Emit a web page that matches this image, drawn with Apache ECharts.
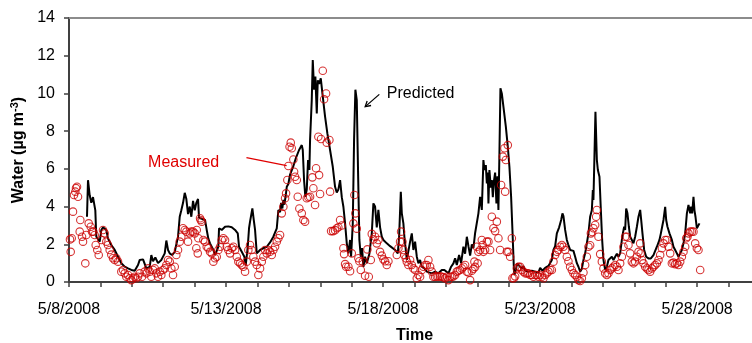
<!DOCTYPE html>
<html><head><meta charset="utf-8">
<script src="https://cdn.jsdelivr.net/npm/echarts@6/dist/echarts.min.js"></script>
<style>html,body{margin:0;padding:0;background:#fff;width:752px;height:343px;overflow:hidden}#c{width:752px;height:343px;overflow:hidden}</style>
</head><body><div id="c"></div>
<script>
// Time in days since 5/8/2008 00:00
const predDay = [0.573,0.605,0.659,0.710,0.764,0.796,0.838,0.869,0.924,0.978,1.029,1.083,1.188,1.242,1.296,1.347,1.455,1.561,1.666,1.774,1.879,1.984,2.092,2.197,2.252,2.357,2.462,2.570,2.621,2.675,2.748,2.834,2.939,3.048,3.099,3.153,3.207,3.280,3.366,3.471,3.525,3.576,3.631,3.685,3.736,3.790,3.844,3.895,3.949,4.003,4.054,4.108,4.140,4.172,4.331,4.385,4.436,4.490,4.596,4.650,4.682,4.755,4.777,4.863,4.968,5.073,5.182,5.287,5.373,5.414,5.500,5.583,5.627,5.691,5.732,5.764,5.838,5.882,5.924,5.978,6.083,6.188,6.296,6.401,6.506,6.561,6.615,6.666,6.720,6.752,6.793,6.825,6.857,6.901,6.933,6.984,7.038,7.134,7.229,7.325,7.411,7.443,7.484,7.525,7.570,7.611,7.653,7.675,7.729,7.761,7.803,7.844,7.889,7.920,7.962,8.016,8.080,8.153,8.226,8.312,8.398,8.471,8.525,8.576,8.631,8.685,8.736,8.790,8.844,8.895,8.949,8.981,9.035,9.076,9.118,9.162,9.204,9.245,9.290,9.331,9.373,9.427,9.481,9.564,9.640,9.691,9.745,9.799,9.850,9.904,9.959,10.010,10.118,10.223,10.277,10.382,10.468,10.510,10.564,10.596,10.646,10.678,10.723,10.755,10.806,10.860,10.914,10.965,11.019,11.073,11.124,11.178,11.232,11.315,11.392,11.443,11.551,11.656,11.761,11.869,11.952,11.997,12.080,12.166,12.239,12.293,12.347,12.420,12.484,12.557,12.611,12.666,12.717,12.771,12.825,12.876,12.930,12.984,13.035,13.089,13.143,13.194,13.226,13.271,13.303,13.334,13.354,13.385,13.430,13.462,13.494,13.525,13.567,13.608,13.640,13.672,13.704,13.736,13.780,13.831,13.908,13.971,14.022,14.076,14.118,14.162,14.181,14.226,14.268,14.315,14.363,14.417,14.468,14.522,14.576,14.627,14.736,14.841,14.946,15.000,15.073,15.159,15.264,15.318,15.373,15.424,15.478,15.532,15.605,15.669,15.710,15.742,15.796,15.850,15.892,15.955,16.010,16.061,16.115,16.169,16.220,16.274,16.328,16.379,16.433,16.487,16.538,16.592,16.646,16.678,16.697,16.729,16.761,16.806,16.838,16.889,16.933,16.975,17.016,17.070,17.124,17.175,17.229,17.283,17.334,17.389,17.443,17.494,17.548,17.602,17.634,17.675,17.707,17.739,17.780,17.825,17.866,17.920,17.971,18.025,18.080,18.131,18.185,18.217,18.258,18.312,18.376,18.449,18.525,18.608,18.717,18.799,18.844,18.885,18.927,18.981,19.013,19.054,19.118,19.194,19.245,19.299,19.354,19.405,19.459,19.513,19.564,19.618,19.672,19.723,19.777,19.809,19.841,19.882,19.914,19.946,19.990,20.032,20.073];
const predVal = [3.46,5.4,4.6,4.2,4.5,4.2,3.8,2.4,2.5,2.14,2.76,2.9,2.76,2.3,2.14,1.96,1.7,1.34,0.99,0.81,0.72,0.64,0.6,0.9,1.17,1.2,0.72,0.8,1.43,1.1,1.3,1.0,1.17,1.52,2.2,1.7,1.52,1.43,1.6,2.4,3.46,3.8,4.2,4.73,4.4,3.6,4.0,3.46,4.3,3.8,4.2,4.4,3.4,3.3,3.29,2.76,2.3,2.05,1.7,1.43,1.5,1.87,2.85,2.76,2.93,2.95,2.9,2.76,2.58,1.87,1.6,1.34,0.9,1.87,2.85,3.2,3.9,3.3,2.76,1.52,1.7,1.79,1.87,2.1,2.4,2.5,2.85,3.82,3.7,4.2,3.9,4.35,4.1,4.6,5.05,5.2,5.7,6.1,6.6,7.0,7.26,7.0,5.4,4.52,4.9,6.47,5.94,7.53,9.65,11.77,10.2,10.9,8.94,10.7,10.5,10.8,9.83,8.77,7.88,7.0,6.11,5.05,4.75,4.9,5.4,4.5,3.99,3.11,2.05,1.52,2.23,1.34,3.11,7.53,10.2,9.65,5.76,2.23,1.34,1.8,0.81,1.34,1.0,1.5,2.58,4.17,4.0,2.9,3.82,2.9,2.4,2.23,2.05,1.9,1.87,1.7,1.52,2.4,4.79,3.64,3.11,2.4,1.7,1.17,1.25,2.14,2.58,1.7,2.14,1.34,0.99,1.17,0.81,0.72,0.55,0.64,0.46,0.55,0.46,0.64,0.64,0.72,0.46,0.81,0.99,1.26,0.9,1.43,1.0,1.87,1.5,2.4,1.9,1.4,2.0,1.8,2.6,2.5,3.64,4.52,3.82,6.47,5.94,6.2,5.23,5.8,4.17,5.94,5.0,5.4,4.5,5.3,5.8,4.17,5.6,3.82,6.82,10.27,10.0,9.3,8.24,7.17,6.11,4.52,2.76,0.81,0.37,0.64,0.99,0.99,0.81,0.7,0.85,0.6,0.7,0.55,0.6,0.55,0.5,0.75,0.6,0.75,0.85,0.8,1.17,1.7,1.9,2.58,2.9,3.29,3.64,3.5,2.76,2.23,2.0,1.7,1.6,1.65,1.34,1.0,0.81,0.55,0.7,1.17,1.52,2.05,2.58,3.46,3.8,4.88,4.35,6.65,9.03,6.47,5.94,5.58,3.82,2.23,1.17,0.64,0.81,1.17,1.1,1.34,1.17,1.34,1.5,1.34,1.52,2.23,2.58,2.93,2.76,3.9,3.64,2.93,2.4,2.23,2.05,2.4,2.93,3.46,3.82,3.29,2.58,1.7,1.34,1.25,1.25,1.43,1.87,2.23,2.58,2.93,3.29,3.99,3.29,2.93,2.58,2.23,1.87,1.7,1.52,1.34,1.52,1.7,2.05,2.58,3.64,4.08,3.64,3.99,3.64,4.52,3.8,3.46,2.85,2.93,3.11];
const measDay = [0.032,0.054,0.086,0.127,0.159,0.201,0.223,0.255,0.287,0.341,0.360,0.414,0.446,0.519,0.551,0.627,0.691,0.732,0.774,0.818,0.850,0.901,0.946,1.029,1.083,1.137,1.188,1.242,1.296,1.347,1.401,1.455,1.506,1.561,1.666,1.720,1.774,1.825,1.879,1.933,1.984,2.038,2.092,2.143,2.197,2.252,2.325,2.411,2.462,2.516,2.570,2.621,2.675,2.729,2.780,2.834,2.889,2.939,2.994,3.048,3.099,3.153,3.207,3.258,3.312,3.366,3.417,3.471,3.525,3.576,3.631,3.685,3.736,3.790,3.844,3.895,3.949,4.003,4.054,4.067,4.099,4.118,4.172,4.194,4.226,4.277,4.331,4.385,4.436,4.490,4.545,4.596,4.650,4.704,4.755,4.809,4.863,4.914,4.968,5.022,5.073,5.127,5.182,5.232,5.287,5.341,5.392,5.446,5.500,5.551,5.605,5.659,5.710,5.764,5.818,5.869,5.924,5.978,6.029,6.083,6.137,6.188,6.242,6.296,6.347,6.401,6.455,6.506,6.561,6.615,6.666,6.720,6.774,6.825,6.879,6.911,6.952,6.984,7.022,7.060,7.092,7.143,7.166,7.197,7.252,7.283,7.334,7.411,7.462,7.516,7.570,7.621,7.675,7.748,7.780,7.834,7.866,7.939,7.962,7.994,8.025,8.080,8.121,8.185,8.207,8.290,8.312,8.344,8.408,8.471,8.525,8.576,8.631,8.685,8.736,8.758,8.790,8.822,8.895,8.949,9.003,9.054,9.086,9.118,9.162,9.213,9.245,9.290,9.354,9.427,9.500,9.545,9.608,9.640,9.691,9.745,9.799,9.850,9.904,9.959,10.010,10.064,10.118,10.169,10.436,10.487,10.541,10.573,10.615,10.646,10.678,10.723,10.755,10.806,10.860,10.914,10.965,11.019,11.073,11.124,11.178,11.232,11.283,11.338,11.392,11.443,11.497,11.551,11.602,11.656,11.710,11.761,11.815,11.869,11.920,11.975,12.029,12.080,12.134,12.185,12.239,12.293,12.347,12.398,12.452,12.506,12.557,12.611,12.666,12.717,12.771,12.825,12.876,12.908,12.930,12.984,13.010,13.035,13.089,13.143,13.169,13.194,13.248,13.303,13.354,13.408,13.462,13.513,13.567,13.621,13.672,13.726,13.758,13.812,13.863,13.885,13.908,13.939,13.971,13.990,14.045,14.099,14.118,14.162,14.204,14.258,14.309,14.363,14.417,14.468,14.522,14.576,14.627,14.682,14.736,14.787,14.841,14.895,14.946,15.000,15.054,15.105,15.159,15.213,15.264,15.318,15.373,15.424,15.478,15.532,15.583,15.637,15.691,15.742,15.796,15.850,15.901,15.955,16.010,16.061,16.115,16.169,16.220,16.274,16.328,16.379,16.433,16.487,16.538,16.592,16.615,16.656,16.697,16.752,16.783,16.806,16.857,16.911,16.965,17.016,17.070,17.124,17.175,17.229,17.283,17.334,17.389,17.443,17.494,17.548,17.602,17.653,17.707,17.761,17.812,17.866,17.920,17.971,18.025,18.080,18.131,18.185,18.201,18.239,18.290,18.344,18.398,18.449,18.503,18.557,18.608,18.662,18.717,18.768,18.822,18.876,18.927,18.981,19.035,19.086,19.140,19.194,19.245,19.299,19.354,19.405,19.459,19.513,19.564,19.618,19.650,19.691,19.723,19.777,19.831,19.882,19.936,19.990,20.041,20.096];
const measVal = [2.26,1.6,2.32,3.73,4.61,4.79,4.98,5.05,4.52,2.67,3.29,2.4,2.14,0.99,2.49,3.11,2.93,2.67,2.67,2.49,1.96,1.7,1.43,2.23,2.76,2.58,2.14,1.96,1.7,1.45,1.26,1.17,1.26,1.08,0.55,0.64,0.46,0.28,0.37,0.2,0.1,0.2,0.28,0.2,0.28,0.46,0.28,0.55,0.46,0.72,0.55,0.28,0.64,0.72,0.46,0.28,0.55,0.37,0.64,0.72,0.9,1.17,1.08,0.72,0.37,0.81,1.43,1.7,2.14,2.4,2.85,2.76,2.67,2.14,2.58,2.67,2.67,2.58,1.79,2.76,1.52,2.32,3.38,3.29,3.2,2.23,2.14,1.87,1.79,1.6,1.52,1.08,1.26,1.34,1.7,1.87,2.23,2.32,2.23,1.87,1.7,1.52,1.79,1.87,1.7,1.34,1.08,0.99,0.9,0.81,0.55,1.08,1.7,1.96,1.7,1.34,1.08,0.9,0.37,0.72,1.08,1.34,1.7,1.52,1.7,1.61,1.43,1.7,1.87,2.14,2.32,2.49,3.64,3.99,4.44,4.7,5.41,6.15,7.17,7.39,7.09,6.5,5.85,5.58,5.41,4.52,3.9,3.64,3.29,3.2,4.44,4.49,4.52,5.55,4.97,4.08,6.03,7.7,5.67,4.67,7.58,11.2,9.69,10.0,7.39,7.53,4.79,2.7,2.7,2.75,2.85,2.9,3.29,3.0,1.79,1.48,0.95,0.81,0.81,0.57,1.52,3.11,4.61,3.64,2.83,1.26,1.1,0.64,1.08,0.33,1.73,0.28,1.17,2.55,2.26,2.4,2.05,2.23,1.6,1.4,1.2,1.1,0.9,1.1,1.43,1.79,2.14,2.67,2.14,1.7,1.43,1.26,1.08,0.9,1.17,0.9,0.72,0.64,0.2,0.37,0.28,0.64,0.81,0.9,0.9,1.17,0.81,0.55,0.28,0.28,0.3,0.28,0.3,0.28,0.25,0.2,0.28,0.1,0.28,0.28,0.3,0.37,0.55,0.6,0.64,0.72,0.81,0.9,0.55,0.5,0.1,0.6,0.7,1.08,0.8,1.87,0.99,1.6,1.7,2.23,1.96,1.6,1.7,2.14,2.14,1.7,3.46,2.85,2.7,3.2,2.32,1.7,5.14,6.65,7.09,4.79,6.47,1.6,7.26,1.6,1.34,2.32,0.2,0.2,0.3,0.72,0.8,0.8,0.64,0.55,0.46,0.46,0.46,0.37,0.37,0.28,0.37,0.37,0.28,0.37,0.28,0.2,0.37,0.46,0.55,0.64,0.64,1.08,1.43,1.6,1.7,1.87,1.96,1.87,1.7,1.34,1.1,0.81,0.64,0.46,0.37,0.28,0.1,0.05,0.2,0.5,0.9,1.34,1.87,1.95,2.58,2.65,2.85,3.02,3.46,3.82,2.4,1.48,1.08,0.72,0.46,0.37,0.46,0.64,0.72,0.81,0.9,0.81,0.64,0.99,1.34,1.87,2.4,2.4,1.96,1.52,1.08,0.99,1.08,1.34,1.6,2.05,1.52,1.17,0.99,0.81,0.72,0.64,0.55,0.72,0.81,0.9,0.99,1.17,1.43,1.79,2.05,2.23,2.23,1.87,1.52,0.99,1.03,0.95,0.99,0.9,1.08,1.34,1.6,1.87,2.32,2.4,2.58,2.67,2.67,2.67,2.05,1.79,1.7,0.64];

const xLabelDays = [0, 5, 10, 15, 20];
const xLabels = ['5/8/2008', '5/13/2008', '5/18/2008', '5/23/2008', '5/28/2008'];
const yMin = 0, yMax = 14, yStep = 2;
const xMin = 0, xMax = 22, xStep = 1;

// annotations in data coordinates [day, value]
const measuredLabelPos = [3.65, 6.33];
const measuredLeader = [[5.65, 6.59], [6.93, 6.17]];
const predictedLabelPos = [10.12, 10.0];
const predictedArrow = [[9.88, 9.95], [9.43, 9.30]];

const FONT = 'Arial, "Liberation Sans", Helvetica, sans-serif';
const RED = '#cc0000';
const chart = echarts.init(document.getElementById('c'), null, {renderer: 'canvas', width: 752, height: 343});
const pred = predDay.map((d, i) => [d, predVal[i]]);
const meas = measDay.map((d, i) => [d, measVal[i]]);

chart.setOption({
  animation: false,
  grid: {left: 69, right: -8, top: 18, bottom: 61, containLabel: false, outerBoundsMode: 'none'},
  xAxis: [{
    type: 'value', min: xMin, max: xMax, interval: xStep,
    axisLine: {lineStyle: {color: '#404040', width: 2}},
    axisTick: {length: 5, lineStyle: {color: '#404040', width: 1.5}},
    axisLabel: {margin: 20, fontSize: 16, color: '#000', fontFamily: FONT,
      formatter: v => { const i = xLabelDays.indexOf(Math.round(v)); return (i < 0 || Math.abs(v - Math.round(v)) > 1e-6) ? '' : xLabels[i]; }},
    splitLine: {show: false},
    name: 'Time', nameLocation: 'middle', nameGap: 46,
    nameTextStyle: {fontSize: 16, fontWeight: 'bold', color: '#000', fontFamily: FONT}
  }, {
    type: 'value', position: 'top', min: xMin, max: xMax,
    axisLine: {lineStyle: {color: '#8c8c8c', width: 2}},
    axisTick: {show: false}, axisLabel: {show: false}, splitLine: {show: false}
  }],
  yAxis: {
    type: 'value', min: yMin, max: yMax, interval: yStep,
    axisLine: {show: true, lineStyle: {color: '#404040', width: 2}},
    axisTick: {show: true, length: 5, lineStyle: {color: '#404040', width: 1.5}},
    axisLabel: {margin: 14, fontSize: 16, color: '#000', fontFamily: FONT},
    splitLine: {show: false},
    name: '{a|Water (µg m}{s|-3}{a|)}', nameLocation: 'middle', nameGap: 40, nameRotate: 90,
    nameTextStyle: {
      fontSize: 16, fontWeight: 'bold', color: '#000', fontFamily: FONT,
      rich: {
        a: {fontSize: 16, fontWeight: 'bold', color: '#000', fontFamily: FONT, lineHeight: 18},
        s: {fontSize: 11, fontWeight: 'bold', color: '#000', fontFamily: FONT, verticalAlign: 'top'}
      }
    }
  },
  series: [{
    name: 'Predicted', type: 'line', data: pred, showSymbol: false, symbol: 'none',
    lineStyle: {color: '#000', width: 2}, z: 2
  }, {
    name: 'Measured', type: 'scatter', data: meas, symbol: 'circle', symbolSize: 7.5,
    itemStyle: {color: 'rgba(255,255,255,0)', borderColor: RED, borderWidth: 1.1}, z: 3
  }]
});

const px = p => chart.convertToPixel({seriesIndex: 0}, p);
const ml = px(measuredLabelPos), pl = px(predictedLabelPos);
const l0 = px(measuredLeader[0]), l1 = px(measuredLeader[1]);
const a0 = px(predictedArrow[0]), a1 = px(predictedArrow[1]);
const dx = a1[0] - a0[0], dy = a1[1] - a0[1], len = Math.hypot(dx, dy);
const ux = dx / len, uy = dy / len, ah = 6, ang = Math.PI / 6;
const rot = (x, y, t) => [x * Math.cos(t) - y * Math.sin(t), x * Math.sin(t) + y * Math.cos(t)];
const h1 = rot(-ux, -uy, ang), h2 = rot(-ux, -uy, -ang);

chart.setOption({
  graphic: [
    {type: 'text', z: 10, style: {text: 'Measured', x: ml[0], y: ml[1], fill: '#e00000', font: '16px ' + FONT,
      textAlign: 'center', textVerticalAlign: 'middle', align: 'center', verticalAlign: 'middle'}},
    {type: 'line', z: 10, shape: {x1: l0[0], y1: l0[1], x2: l1[0], y2: l1[1]}, style: {stroke: '#e00000', lineWidth: 1.3}},
    {type: 'text', z: 10, style: {text: 'Predicted', x: pl[0], y: pl[1], fill: '#000', font: '16px ' + FONT,
      textAlign: 'left', textVerticalAlign: 'middle', align: 'left', verticalAlign: 'middle'}},
    {type: 'line', z: 10, shape: {x1: a0[0], y1: a0[1], x2: a1[0], y2: a1[1]}, style: {stroke: '#000', lineWidth: 1.3}},
    {type: 'polyline', z: 10, shape: {points: [[a1[0] + h1[0] * ah, a1[1] + h1[1] * ah], a1, [a1[0] + h2[0] * ah, a1[1] + h2[1] * ah]]},
      style: {stroke: '#000', lineWidth: 1.3, fill: null}}
  ]
});
</script></body></html>
